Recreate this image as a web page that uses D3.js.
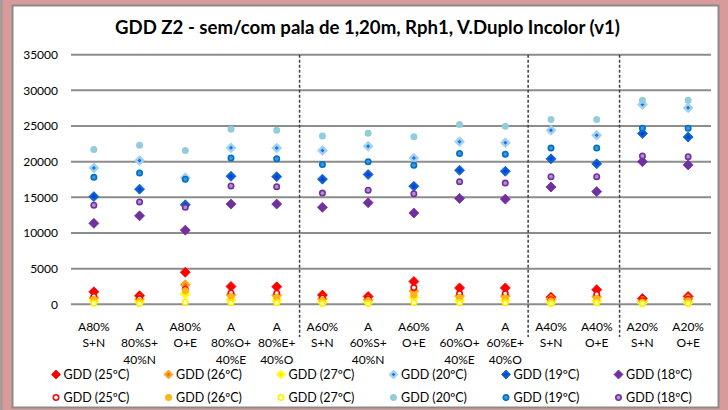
<!DOCTYPE html>
<html><head><meta charset="utf-8">
<script src="https://cdn.jsdelivr.net/npm/d3@7"></script>
<style>
html,body{margin:0;padding:0;background:#d99a9a;}
svg{display:block;}
text{font-family:Lato,"Open Sans",sans-serif;fill:#000;}
</style></head>
<body>
<svg id="chart" width="728" height="410"></svg>
<script>
const title = "GDD Z2 - sem/com pala de 1,20m, Rph1, V.Duplo Incolor (v1)";
const categories = ["A80%\nS+N","A\n80%S+\n40%N","A80%\nO+E","A\n80%O+\n40%E","A\n80%E+\n40%O","A60%\nS+N","A\n60%S+\n40%N","A60%\nO+E","A\n60%O+\n40%E","A\n60%E+\n40%O","A40%\nS+N","A40%\nO+E","A20%\nS+N","A20%\nO+E"];
const yTicks = [0,5000,10000,15000,20000,25000,30000,35000];
const groupBreaks = [5,10,12]; // dashed separators after these category counts

// diamond series
const d25 = [1750,1200,4500,2500,2450,1300,1100,3200,2300,2300,1000,2050,800,1100];
const d26 = [900,700,2750,1300,1250,750,600,1850,1150,1150,700,1050,450,750];
const d27 = [450,350,1450,600,600,300,300,1000,550,550,250,450,200,250];
const d20 = [19100,20150,17750,21950,21900,21550,22150,20500,22800,22650,24400,23700,28000,27550];
const d19 = [15100,16150,13950,17950,17900,17550,18200,16550,18800,18650,20400,19700,23950,23450];
const d18 = [11350,12400,10400,14050,14050,13600,14250,12800,14850,14750,16450,15800,20000,19550];
// circle series
const c25 = [1100,800,2100,1600,1550,900,750,2350,1500,1500,650,1400,500,700];
const c26 = [700,450,1900,1050,1000,550,450,1300,950,900,450,800,300,500];
const c27 = [150,100,300,200,200,100,100,250,200,200,100,200,100,100];
const c20 = [21700,22300,21550,24550,24400,23600,24000,23500,25200,24950,25900,25900,28600,28600];
const c19 = [17800,18400,17550,20500,20400,19600,20000,19500,21150,21050,21900,21900,24700,24700];
const c18 = [13900,14350,13600,16600,16500,15600,16000,15500,17200,17000,17900,17900,20800,20700];

const seriesNames = ["GDD (25ºC)","GDD (26ºC)","GDD (27ºC)","GDD (20ºC)","GDD (19ºC)","GDD (18ºC)"];

const series = [
  {name:seriesNames[0], data:d25, shape:"d", fill:"#ff0000", inner:null},
  {name:seriesNames[1], data:d26, shape:"d", fill:"#ffa31a", inner:"#e8700a"},
  {name:seriesNames[2], data:d27, shape:"d", fill:"#ffff00", inner:"#ffd84a"},
  {name:seriesNames[3], data:d20, shape:"d", fill:"#9fd3ea", inner:"#1a6cff"},
  {name:seriesNames[4], data:d19, shape:"d", fill:"#0a62c8", inner:"#0033ff"},
  {name:seriesNames[5], data:d18, shape:"d", fill:"#7030a0", inner:null},
  {name:seriesNames[0], data:c25, shape:"c", fill:"#ffffff", stroke:"#ff0000"},
  {name:seriesNames[1], data:c26, shape:"c", fill:"#ffb515", stroke:"#ffb515"},
  {name:seriesNames[2], data:c27, shape:"c", fill:"#ffffc0", stroke:"#ffee00"},
  {name:seriesNames[3], data:c20, shape:"c", fill:"#93cddd", stroke:"#93cddd"},
  {name:seriesNames[4], data:c19, shape:"c", fill:"#3d96e0", stroke:"#0070c0"},
  {name:seriesNames[5], data:c18, shape:"c", fill:"#b48fd0", stroke:"#7030a0"}
];

const svg = d3.select("#chart");
svg.append("line").attr("x1",1.5).attr("x2",1.5).attr("y1",0).attr("y2",410).attr("stroke","#9a9a9a").attr("stroke-width",2);
svg.append("rect").attr("x",12.5).attr("y",5.5).attr("width",706).attr("height",402)
  .attr("fill","#fff").attr("stroke","#8a8a8a").attr("stroke-width",2);

const pLeft = 71, pRight = 711, pTop = 54.7, pBottom = 304.3;
const x = d3.scaleBand().domain(d3.range(categories.length)).range([pLeft,pRight]);
const y = d3.scaleLinear().domain([0,35000]).range([pBottom,pTop]);

svg.append("text").attr("x",367.5).attr("y",34).attr("text-anchor","middle")
  .style("font-size","18.6px").style("font-weight","700").text(title);

svg.append("g").selectAll("line").data(yTicks).join("line")
  .attr("x1",pLeft).attr("x2",pRight).attr("y1",d=>y(d)).attr("y2",d=>y(d))
  .attr("stroke","#8c8c8c").attr("stroke-width",2);

const yAxis = d3.axisLeft(y).tickValues(yTicks).tickSize(0).tickPadding(0).tickFormat(d3.format("d"));
const ga = svg.append("g").attr("transform",`translate(${pLeft-13},0)`).call(yAxis);
ga.select(".domain").remove();
ga.selectAll("text").style("font-family","Lato, sans-serif").style("font-size","12px").attr("fill","#000");

svg.append("g").selectAll("line").data(groupBreaks).join("line")
  .attr("x1",d=>x(d)).attr("x2",d=>x(d)).attr("y1",pTop).attr("y2",337)
  .attr("stroke","#404040").attr("stroke-width",1.5).attr("stroke-dasharray","3,2");

const cl = svg.append("g").selectAll("text").data(categories).join("text")
  .attr("x",(d,i)=>x(i)+x.bandwidth()/2).attr("y",331)
  .attr("text-anchor","middle").style("font-size","12px");
cl.each(function(d){
  const t = d3.select(this);
  d.split("\n").forEach((ln,k)=>{
    t.append("tspan").attr("x",t.attr("x")).attr("dy",k===0?0:16.3).text(ln);
  });
});

const diamondPath = (s)=>`M0,${-s}L${s},0L0,${s}L${-s},0Z`;

function drawMarker(g, s, cx, cy, scale){
  const k = scale||1;
  if(s.shape==="d"){
    g.append("path").attr("d",diamondPath(5*k)).attr("transform",`translate(${cx},${cy})`)
      .attr("fill",s.fill).attr("stroke",s.fill).attr("stroke-width",0.8);
    if(s.inner){
      g.append("path").attr("d",diamondPath(2*k)).attr("transform",`translate(${cx},${cy})`).attr("fill",s.inner);
    }
  } else {
    g.append("circle").attr("cx",cx).attr("cy",cy).attr("r",2.7*k)
      .attr("fill",s.fill).attr("stroke",s.stroke).attr("stroke-width",1.6);
  }
}

const marks = svg.append("g");
series.forEach(s=>{
  const gs = marks.append("g");
  s.data.forEach((v,i)=>{
    drawMarker(gs, s, x(i)+x.bandwidth()/2, y(v), 1);
  });
});

const legX = [56,168.5,281,393.5,506,618.5];
const legY = [374.5,397.5];
const leg = svg.append("g");
series.forEach((s,i)=>{
  const col = i%6, row = Math.floor(i/6);
  const cx = legX[col], cy = legY[row];
  drawMarker(leg, s, cx, cy, s.shape==="d"?0.9:1);
  leg.append("text").attr("x",cx+7.5).attr("y",cy+4.5).style("font-size","12.5px").text(s.name);
});
</script>
</body></html>
